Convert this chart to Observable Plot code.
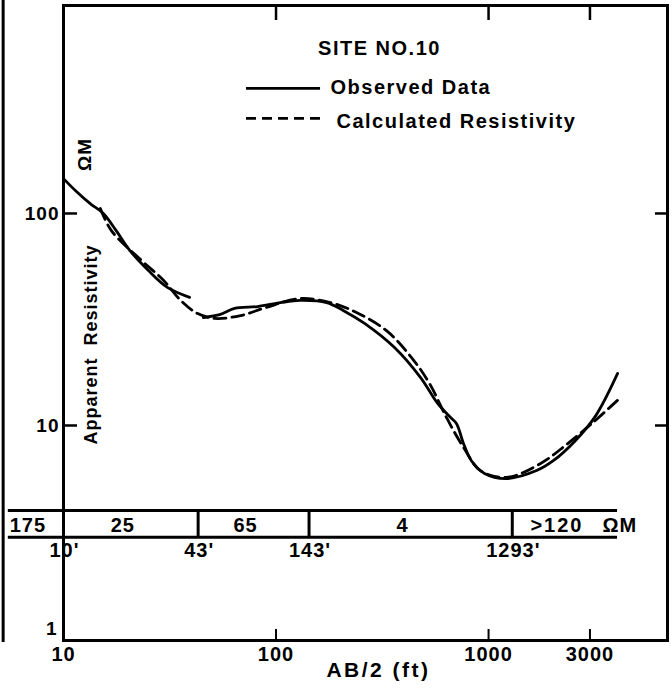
<!DOCTYPE html>
<html><head><meta charset="utf-8">
<script src="https://cdn.jsdelivr.net/npm/d3@7"></script>
<script src="https://cdn.jsdelivr.net/npm/@observablehq/plot@0.6"></script>
<style>body{margin:0;background:#fff}</style>
</head><body><div id="chart"></div>
<script>
// Observed data (solid), two pieces
const obsX1 = [10, 11.4, 13.4, 15.4, 17.7, 20.5, 25.1, 30.8, 39.2];
const obsY1 = [146, 128, 111, 100, 83, 67, 53.8, 44.8, 40.2];
const obsX2 = [45.5, 54.8, 63.8, 81.9, 105, 130, 173, 208, 261, 361, 479, 576, 663, 707, 763, 832, 957, 1216, 1683, 2024, 2566, 3190, 4048];
const obsY2 = [32.3, 33.4, 35.7, 36.4, 38, 38.9, 38, 34.8, 30.3, 23.3, 16.8, 12.7, 10.9, 10.2, 8.2, 6.8, 5.94, 5.62, 6.13, 6.84, 8.5, 11.1, 17.6];
// Calculated resistivity (dashed)
const calcX = [14.9, 16.8, 23.3, 29.6, 35.6, 42.8, 51.4, 68.1, 90.2, 130, 180, 239, 331, 434, 527, 634, 763, 916, 1216, 1758, 2301, 3055, 4130];
const calcY = [105.6, 83, 60, 48.3, 38.9, 33.7, 32, 33, 36.1, 39.7, 38, 34.1, 28, 20.9, 15.8, 10.9, 7.87, 6.13, 5.69, 6.62, 8.06, 10.2, 13.4];
// Layer model
const layerRes = ["175", "25", "65", "4", ">120"];
const depths = [10, 43, 143, 1293];
const depthLabels = ["10'", "43'", "143'", "1293'"];
// Axis ticks
const xTickLabels = [10, 100, 1000, 3000];
const xTickMarks = [100, 1000, 3000];
const yTickLabels = [10, 100];
const yTickLabelsLow = [1];
const yTickMarks = [10, 100];

// layout
const W = 672, H = 688, mL = 63, mR = 5, mT = 5, mB = 48;
const plotW = W - mL - mR, plotH = H - mT - mB;
const bandLeft = 5.5, bandRight = 4045;
const bandTop = 3.97, bandBottom = 2.97, bandText = 3.37, depthText = 2.57;
const FONT = "Liberation Sans, Arial, sans-serif";

const obs1 = obsX1.map((x, i) => ({x, y: obsY1[i]}));
const obs2 = obsX2.map((x, i) => ({x, y: obsY2[i]}));
const calc = calcX.map((x, i) => ({x, y: calcY[i]}));
const bounds = [bandLeft, ...depths, bandRight];
const layers = layerRes.map((t, i) => ({t, x: Math.sqrt(bounds[i] * bounds[i + 1])}));
const depthRows = depths.map((d, i) => ({x: d, t: depthLabels[i]}));

const txt = {fill: "black", fontFamily: FONT, fontWeight: "bold"};
const ann = {...txt, textAnchor: "middle", lineAnchor: "middle"};

const chart = Plot.plot({
  width: W, height: H,
  marginLeft: mL, marginRight: mR, marginTop: mT, marginBottom: mB,
  style: {fontFamily: FONT, background: "white", color: "black"},
  x: {type: "log", domain: [10, 6950], axis: null},
  y: {type: "log", domain: [0.968, 957], axis: null},
  marks: [
    // scan border on the left
    Plot.ruleX([5.2], {insetTop: -5, insetBottom: -2, strokeWidth: 3}),
    Plot.frame({strokeWidth: 3}),
    // inward ticks
    Plot.ruleX(xTickMarks, {insetTop: plotH - 11, strokeWidth: 2}),
    Plot.ruleX(xTickMarks, {insetBottom: plotH - 15, strokeWidth: 2.5}),
    Plot.ruleY(yTickMarks, {insetRight: plotW - 14, strokeWidth: 2.5}),
    Plot.ruleY(yTickMarks, {insetLeft: plotW - 12, strokeWidth: 2.5}),
    Plot.axisX({ticks: xTickLabels, tickSize: 0, tickPadding: 6, tickFormat: d => String(d), fontSize: 20, fontWeight: "bold", label: null}),
    Plot.axisY({ticks: yTickLabels, tickSize: 0, tickPadding: 4, tickFormat: d => String(d), fontSize: 19, fontWeight: "bold", label: null}),
    Plot.axisY({ticks: yTickLabelsLow, tickSize: 0, tickPadding: 6, tickFormat: d => String(d), fontSize: 19, fontWeight: "bold", label: null, dy: -9}),
    // curves
    Plot.line(obs1, {x: "x", y: "y", curve: "catmull-rom", strokeWidth: 2.8}),
    Plot.line(obs2, {x: "x", y: "y", curve: "catmull-rom", strokeWidth: 2.8}),
    Plot.line(calc, {x: "x", y: "y", curve: "catmull-rom", strokeWidth: 2.8, strokeDasharray: "12,6"}),
    // layer band
    Plot.ruleY([bandTop, bandBottom], {x1: bandLeft, x2: bandRight, strokeWidth: 3}),
    Plot.ruleX(depths.slice(1), {y1: bandBottom, y2: bandTop, strokeWidth: 3}),
    Plot.text(layers, {x: "x", y: bandText, text: "t", dx: -8, fontSize: 20, ...txt}),
    Plot.text(["ΩM"], {x: bandRight, y: bandText, text: d => d, textAnchor: "start", dx: -15, fontSize: 20, ...txt}),
    Plot.text(depthRows, {x: "x", y: depthText, text: "t", dx: 1, fontSize: 20, ...txt}),
    // title & legend
    Plot.text(["SITE NO.10"], {frameAnchor: "top-left", text: d => d, dx: 316, dy: 43, fontSize: 20, ...ann}),
    Plot.ruleY([389], {x1: 72.6, x2: 162, strokeWidth: 2.8}),
    Plot.ruleY([281], {x1: 72.6, x2: 162, strokeWidth: 2.8, strokeDasharray: "10,6"}),
    Plot.text(["Observed Data"], {frameAnchor: "top-left", text: d => d, ...ann, textAnchor: "start", dx: 267, dy: 82, fontSize: 20}),
    Plot.text(["Calculated Resistivity"], {frameAnchor: "top-left", text: d => d, ...ann, textAnchor: "start", dx: 273, dy: 116, fontSize: 20}),
    // axis titles
    Plot.text(["ΩM"], {frameAnchor: "top-left", text: d => d, rotate: -90, dx: 21, dy: 149, fontSize: 19, ...ann}),
    Plot.text(["Apparent  Resistivity"], {frameAnchor: "top-left", text: d => d, rotate: -90, dx: 28, dy: 339, fontSize: 18, ...ann}),
    Plot.text(["AB/2 (ft)"], {frameAnchor: "bottom", text: d => d, dx: 13, dy: 30, fontSize: 21, ...ann})
  ]
});
// letter spacing to mimic the wide hand lettering
const spacing = {
  "SITE NO.10": "1.5px", "Observed Data": "1.5px", "Calculated Resistivity": "1.5px",
  "Apparent  Resistivity": "1px", "AB/2 (ft)": "2.5px", ">120": "2px"
};
chart.querySelectorAll("text").forEach(t => {
  t.style.letterSpacing = spacing[t.textContent] || "1px";
});
document.getElementById("chart").append(chart);
</script>
</body></html>
